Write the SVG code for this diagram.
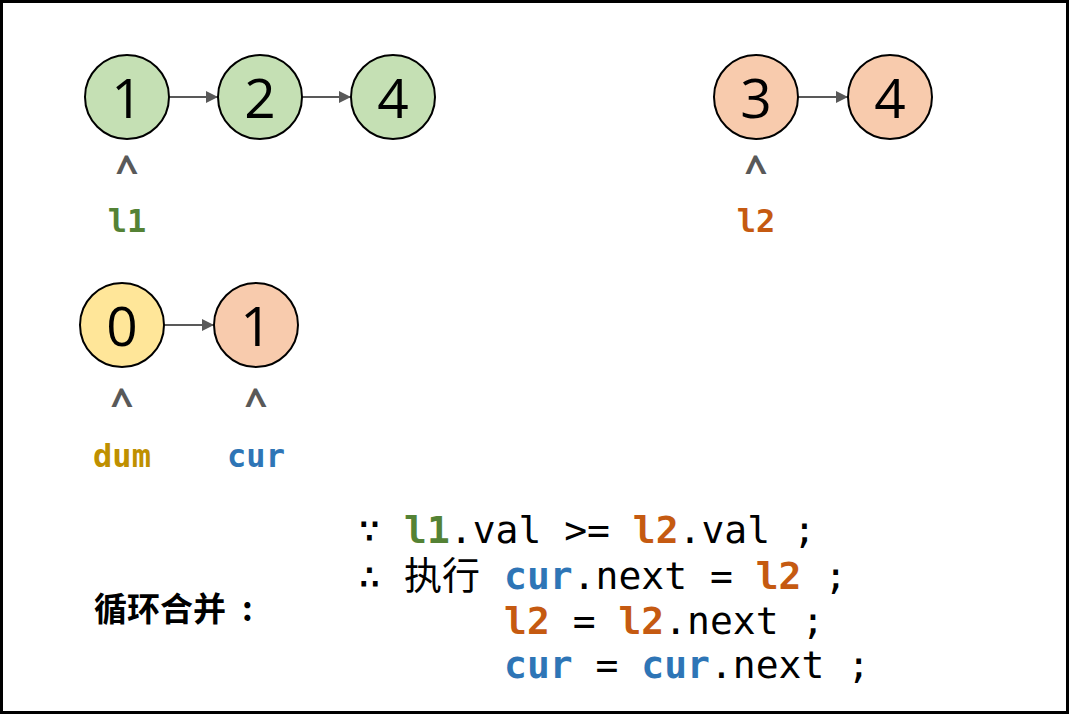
<svg xmlns="http://www.w3.org/2000/svg" width="1069" height="714" viewBox="0 0 1069 714">
  <style>
    .node { stroke: #000; stroke-width: 2; }
    .green { fill: #C5E0B4; }
    .orange { fill: #F8CBAD; }
    .yellow { fill: #FFE699; }
    .num { font-family: "Open Sans", "Noto Sans", sans-serif; font-size: 55px; fill: #000; text-anchor: middle; }
    .caret { font-family: "Open Sans", "Noto Sans", sans-serif; font-size: 40px; font-weight: bold; fill: #595959; text-anchor: middle; }
    .ptr { font-family: "DejaVu Sans Mono", "Liberation Mono", monospace; font-size: 32px; font-weight: bold; text-anchor: middle; }
    .code { font-family: "DejaVu Sans Mono", "Liberation Mono", "Noto Sans CJK SC", monospace; font-size: 38px; fill: #000; }
    .b { font-weight: bold; }
    .c1 { fill: #548235; }
    .c2 { fill: #C55A11; }
    .cd { fill: #BF9000; }
    .cc { fill: #2E75B6; }
    .cjk { font-family: "Noto Sans CJK SC", sans-serif; }
    .link { stroke: #595959; stroke-width: 2; fill: none; marker-end: url(#arrow); }
  </style>
  <defs>
    <marker id="arrow" viewBox="0 0 10 10" refX="10" refY="5" markerWidth="7" markerHeight="6" markerUnits="strokeWidth" orient="auto">
      <path d="M0,0 L10,5 L0,10 z" fill="#595959"/>
    </marker>
  </defs>

  <rect x="1.5" y="1.5" width="1066" height="711" fill="#fff" stroke="#000" stroke-width="3"/>

  <g id="connectors">
    <line class="link" x1="169" y1="97" x2="218" y2="97"/>
    <line class="link" x1="302" y1="97" x2="351" y2="97"/>
    <line class="link" x1="798" y1="97" x2="848" y2="97"/>
    <line class="link" x1="164" y1="325" x2="214" y2="325"/>
  </g>

  <g id="l1-node1"><circle class="node green" cx="127" cy="97" r="42"/><text class="num" x="127" y="118">1</text></g>
  <g id="l1-node2"><circle class="node green" cx="260" cy="97" r="42"/><text class="num" x="260" y="118">2</text></g>
  <g id="l1-node4"><circle class="node green" cx="393" cy="97" r="42"/><text class="num" x="393" y="118">4</text></g>

  <g id="l2-node3"><circle class="node orange" cx="756" cy="97" r="42"/><text class="num" x="756" y="118">3</text></g>
  <g id="l2-node4"><circle class="node orange" cx="890" cy="97" r="42"/><text class="num" x="890" y="118">4</text></g>

  <g id="dum-node0"><circle class="node yellow" cx="122" cy="325" r="42"/><text class="num" x="122" y="346">0</text></g>
  <g id="res-node1"><circle class="node orange" cx="256" cy="325" r="42"/><text class="num" x="256" y="346">1</text></g>

  <g id="pointers">
    <text class="caret" x="127" y="184">^</text>
    <text class="ptr c1" x="127" y="232">l1</text>
    <text class="caret" x="756" y="184">^</text>
    <text class="ptr c2" x="756" y="232">l2</text>
    <text class="caret" x="122" y="417">^</text>
    <text class="ptr cd" x="122" y="467">dum</text>
    <text class="caret" x="256" y="417">^</text>
    <text class="ptr cc" x="256" y="467">cur</text>
  </g>

  <g id="caption">
    <text class="cjk" y="621" font-size="33" font-weight="bold" fill="#000"><tspan x="94">循环合并</tspan><tspan x="242">:</tspan></text>
  </g>

  <g id="code">
    <text class="code" y="543"><tspan x="358">∵</tspan><tspan x="404" class="b c1">l1</tspan><tspan>.val &gt;= </tspan><tspan class="b c2">l2</tspan><tspan>.val ;</tspan></text>
    <text class="code" y="589"><tspan x="358">∴</tspan><tspan x="404" class="cjk">执行</tspan><tspan x="504" class="b cc">cur</tspan><tspan>.next = </tspan><tspan class="b c2">l2</tspan><tspan> ;</tspan></text>
    <text class="code" y="634"><tspan x="504" class="b c2">l2</tspan><tspan> = </tspan><tspan class="b c2">l2</tspan><tspan>.next ;</tspan></text>
    <text class="code" y="678"><tspan x="504" class="b cc">cur</tspan><tspan> = </tspan><tspan class="b cc">cur</tspan><tspan>.next ;</tspan></text>
  </g>
</svg>
